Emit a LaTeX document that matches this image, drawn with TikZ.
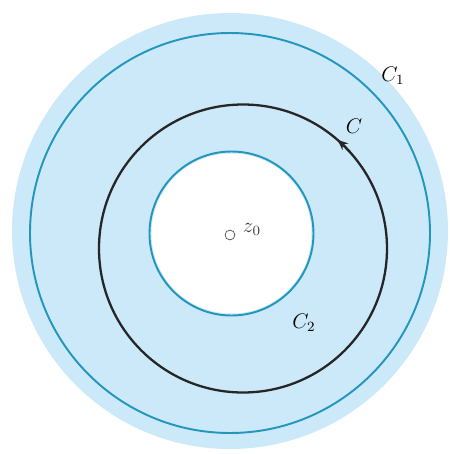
\documentclass[tikz,border=0pt]{standalone}
\usepackage{amsmath,amssymb}
\usetikzlibrary{arrows.meta,positioning,calc}
\definecolor{regionblue}{RGB}{204,233,249}
\definecolor{ringblue}{RGB}{35,150,190}

\begin{document}
\begin{tikzpicture}[every node/.style={font=\large}]
    \useasboundingbox (-4.6,-4.42) rectangle (4.4,4.66);

    % annular region
    \fill[regionblue] (0,0.04) circle (4.36);
    \fill[white] (0.03,-0.01) circle (1.6);

    % C_1 and C_2
    \draw[ringblue, line width=1.1pt] (0,0) circle (4.0);
    \draw[ringblue, line width=1.1pt] (0.03,-0.01) circle (1.64);

    % contour C, slightly off centre
    \coordinate (cc) at (0.26,-0.31);
    \draw[black!85, line width=1.3pt] (cc) circle (2.88);
    \draw[black!85, line width=1.3pt, -{Stealth[length=6pt,width=5pt]}] (cc) ++(42:2.88) arc (42:49:2.88);

    % centre point z_0
    \draw[black!70, fill=white] (0,-0.04) circle (2.8pt);
    \node[black!75, above right=-4pt and -1pt] (zlabel) at (0.17,-0.04) {$z_0$};

    % labels
    \node (cone) at (3.26,3.14) {$C_1$};
    \node (ccontour) at (2.48,2.14) {$C$};
    \node (ctwo) at (1.48,-1.8) {$C_2$};
  \end{tikzpicture}
\end{document}
